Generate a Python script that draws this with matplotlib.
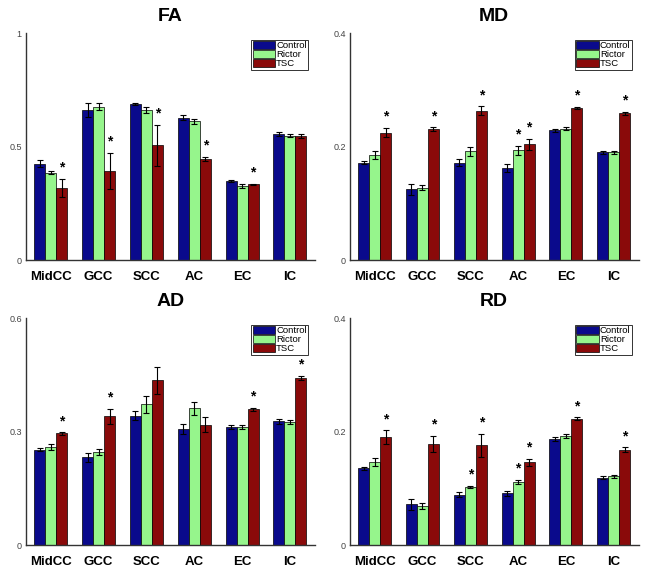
import numpy as np
import matplotlib
matplotlib.use('Agg')
import matplotlib.pyplot as plt

plt.rcParams['font.family'] = ['Liberation Sans', 'DejaVu Sans']

regions = ['MidCC', 'GCC', 'SCC', 'AC', 'EC', 'IC']
groups = ['Control', 'Rictor', 'TSC']
colors = ['#0a0a8c', '#96f58c', '#8a0a0a']

# FA
fa_control = [0.426, 0.662, 0.688, 0.628, 0.349, 0.556]
fa_rictor = [0.385, 0.676, 0.662, 0.612, 0.328, 0.549]
fa_tsc = [0.320, 0.394, 0.507, 0.446, 0.334, 0.547]
fa_control_err = [0.015, 0.030, 0.005, 0.010, 0.003, 0.010]
fa_rictor_err = [0.007, 0.015, 0.015, 0.010, 0.010, 0.005]
fa_tsc_err = [0.040, 0.080, 0.090, 0.010, 0.003, 0.007]

# MD
md_control = [0.172, 0.125, 0.172, 0.163, 0.229, 0.190]
md_rictor = [0.185, 0.128, 0.192, 0.194, 0.232, 0.190]
md_tsc = [0.225, 0.231, 0.263, 0.204, 0.268, 0.259]
md_control_err = [0.002, 0.010, 0.006, 0.007, 0.003, 0.003]
md_rictor_err = [0.007, 0.005, 0.008, 0.008, 0.003, 0.003]
md_tsc_err = [0.008, 0.003, 0.008, 0.010, 0.002, 0.003]

# AD
ad_control = [0.252, 0.232, 0.342, 0.307, 0.312, 0.327]
ad_rictor = [0.259, 0.247, 0.372, 0.362, 0.312, 0.326]
ad_tsc = [0.295, 0.340, 0.435, 0.318, 0.359, 0.441]
ad_control_err = [0.004, 0.012, 0.012, 0.014, 0.006, 0.007]
ad_rictor_err = [0.008, 0.008, 0.022, 0.017, 0.006, 0.005]
ad_tsc_err = [0.003, 0.020, 0.035, 0.020, 0.004, 0.005]

# RD
rd_control = [0.135, 0.072, 0.089, 0.091, 0.187, 0.119]
rd_rictor = [0.147, 0.069, 0.103, 0.111, 0.192, 0.121]
rd_tsc = [0.190, 0.178, 0.176, 0.146, 0.223, 0.168]
rd_control_err = [0.002, 0.010, 0.004, 0.005, 0.003, 0.003]
rd_rictor_err = [0.007, 0.005, 0.002, 0.004, 0.003, 0.003]
rd_tsc_err = [0.012, 0.014, 0.020, 0.006, 0.002, 0.004]

# significance stars: (region index, group index)
fa_stars = [(0, 2), (1, 2), (2, 2), (3, 2), (4, 2)]
md_stars = [(0, 2), (1, 2), (2, 2), (3, 1), (3, 2), (4, 2), (5, 2)]
ad_stars = [(0, 2), (1, 2), (4, 2), (5, 2)]
rd_stars = [(0, 2), (1, 2), (2, 1), (2, 2), (3, 1), (3, 2), (4, 2), (5, 2)]

panels = [
    ('FA', [fa_control, fa_rictor, fa_tsc],
     [fa_control_err, fa_rictor_err, fa_tsc_err], fa_stars, [0, 0.5, 1], ['0', '0.5', '1']),
    ('MD', [md_control, md_rictor, md_tsc],
     [md_control_err, md_rictor_err, md_tsc_err], md_stars, [0, 0.2, 0.4], ['0', '0.2', '0.4']),
    ('AD', [ad_control, ad_rictor, ad_tsc],
     [ad_control_err, ad_rictor_err, ad_tsc_err], ad_stars, [0, 0.3, 0.6], ['0', '0.3', '0.6']),
    ('RD', [rd_control, rd_rictor, rd_tsc],
     [rd_control_err, rd_rictor_err, rd_tsc_err], rd_stars, [0, 0.2, 0.4], ['0', '0.2', '0.4']),
]

positions = [
    [0.040, 0.545, 0.445, 0.397],
    [0.539, 0.545, 0.445, 0.397],
    [0.040, 0.047, 0.445, 0.397],
    [0.539, 0.047, 0.445, 0.397],
]

fig = plt.figure(figsize=(6.49, 5.72), dpi=100)
x = np.arange(1, len(regions) + 1)
w = 0.23

for (title, vals, errs, stars, yticks, ylabels), pos in zip(panels, positions):
    ax = fig.add_axes(pos)
    ymax = yticks[-1]
    for i in range(3):
        ax.bar(x + (i - 1) * w, vals[i], w, color=colors[i], edgecolor='black',
               linewidth=0.5, label=groups[i], zorder=2)
        ax.errorbar(x + (i - 1) * w, vals[i], yerr=errs[i], fmt='none',
                    ecolor='black', elinewidth=0.8, capsize=2.2, capthick=0.8, zorder=3)
    for r, g in stars:
        top = vals[g][r] + errs[g][r]
        ax.text(x[r] + (g - 1) * w, top + 0.05 * ymax, '*', ha='center', va='center',
                fontsize=10, fontweight='bold')
    ax.set_xlim(0.48, 6.52)
    ax.set_ylim(0, ymax)
    ax.set_xticks(x)
    ax.set_xticklabels(regions, fontsize=9.5, fontweight='bold')
    ax.set_yticks(yticks)
    ax.set_yticklabels(ylabels, fontsize=6.5, color='#444444')
    ax.tick_params(axis='both', length=0, pad=3)
    ax.tick_params(axis='x', pad=8)
    for s in ['top', 'right']:
        ax.spines[s].set_visible(False)
    for s in ['left', 'bottom']:
        ax.spines[s].set_color('#333333')
        ax.spines[s].set_linewidth(1.0)
    ax.set_title(title, fontsize=14, fontweight='bold', pad=9)
    leg = ax.legend(loc='upper right', prop={'size': 6.8}, frameon=True, fancybox=False,
                    edgecolor='black', borderpad=0.15, labelspacing=0.0,
                    handlelength=2.4, handleheight=0.85, handletextpad=0.1,
                    borderaxespad=0.7)
    leg.get_frame().set_linewidth(0.7)

fig.savefig('out.png', dpi=100)
